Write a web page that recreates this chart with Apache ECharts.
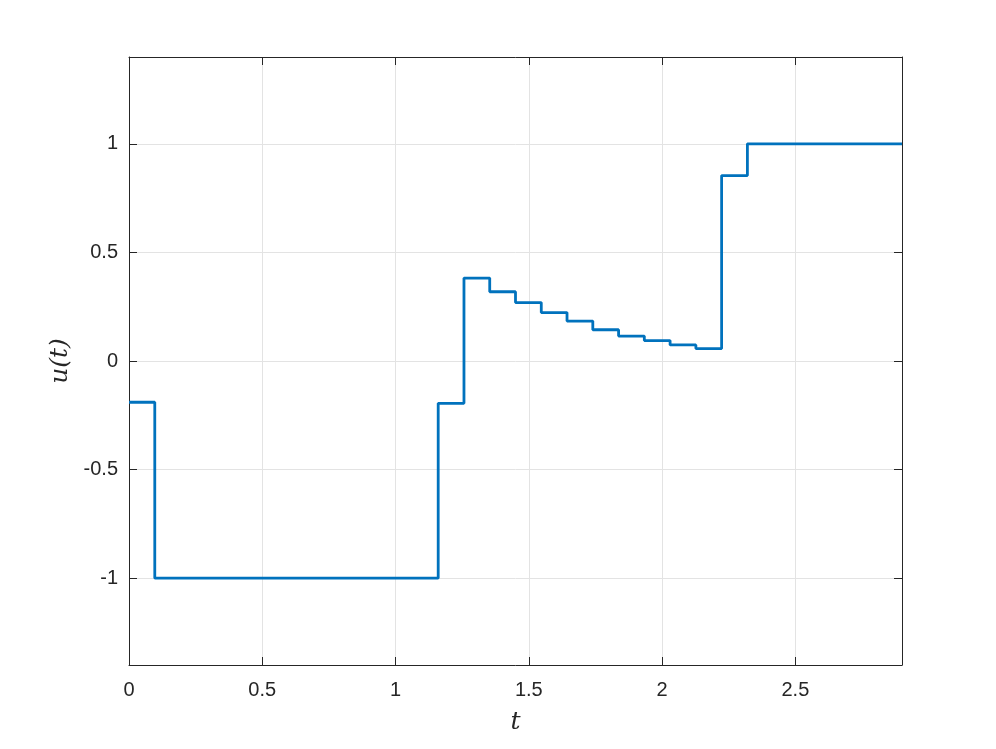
<!DOCTYPE html>
<html>
<head>
<meta charset="utf-8">
<script src="https://cdn.jsdelivr.net/npm/echarts@6/dist/echarts.min.js"></script>
<style>
  html, body { margin: 0; padding: 0; background: #fff; }
  #chart { width: 996px; height: 749px; }
</style>
</head>
<body>
<div id="chart"></div>
<script>
// breakpoints of the zero-order-hold control signal u(t)
const times = [0, 0.0967, 1.16, 1.2567, 1.3533, 1.45, 1.5467, 1.6433, 1.74, 1.8367,
               1.9333, 2.03, 2.1267, 2.2233, 2.32, 2.9];
const uValues = [-0.19, -1, -0.195, 0.382, 0.319, 0.269, 0.223, 0.184, 0.144, 0.115,
                 0.094, 0.074, 0.057, 0.854, 1, 1];

const xRange = [0, 2.9];
const yRange = [-1.4, 1.4];

const axisColor = '#262626';
const gridColor = '#e3e3e3';
const labelFont = 'Liberation Sans, Helvetica, Arial, sans-serif';
const mathFont = 'DejaVu Serif, Liberation Serif, serif';

const chart = echarts.init(document.getElementById('chart'));

const tickStyle = { show: true, inside: true, length: 8, lineStyle: { color: axisColor, width: 1 } };

chart.setOption({
    animation: false,
    backgroundColor: '#fff',
    grid: { left: 129, right: 94, top: 57, bottom: 84, show: false },
    xAxis: [
        {
            type: 'value', min: xRange[0], max: xRange[1], splitNumber: 6,
            position: 'bottom',
            axisLine: { show: true, onZero: false, lineStyle: { color: axisColor, width: 1 } },
            axisTick: tickStyle,
            axisLabel: { color: axisColor, fontSize: 20, fontFamily: labelFont, margin: 15, showMaxLabel: false },
            splitLine: { show: true, lineStyle: { color: gridColor, width: 1 } },
            name: 't', nameLocation: 'middle', nameGap: 45,
            nameTextStyle: { fontFamily: mathFont, fontStyle: 'italic', fontSize: 25, color: axisColor }
        },
        {
            type: 'value', min: xRange[0], max: xRange[1], splitNumber: 6,
            position: 'top',
            axisLine: { show: true, onZero: false, lineStyle: { color: axisColor, width: 1 } },
            axisTick: tickStyle,
            axisLabel: { show: false },
            splitLine: { show: false }
        }
    ],
    yAxis: [
        {
            type: 'value', min: yRange[0], max: yRange[1], splitNumber: 6,
            position: 'left',
            axisLine: { show: true, onZero: false, lineStyle: { color: axisColor, width: 1 } },
            axisTick: tickStyle,
            axisLabel: { color: axisColor, fontSize: 20, fontFamily: labelFont, margin: 11,
                         showMinLabel: false, showMaxLabel: false },
            splitLine: { show: true, lineStyle: { color: gridColor, width: 1 } },
            name: 'u(t)', nameLocation: 'middle', nameGap: 54, nameRotate: 90,
            nameTextStyle: { fontFamily: mathFont, fontStyle: 'italic', fontSize: 25, color: axisColor }
        },
        {
            type: 'value', min: yRange[0], max: yRange[1], splitNumber: 6,
            position: 'right',
            axisLine: { show: true, onZero: false, lineStyle: { color: axisColor, width: 1 } },
            axisTick: tickStyle,
            axisLabel: { show: false },
            splitLine: { show: false }
        }
    ],
    series: [
        {
            type: 'line',
            step: 'end',
            xAxisIndex: 0,
            yAxisIndex: 0,
            showSymbol: false,
            symbol: 'none',
            lineStyle: { color: '#0072BD', width: 2.8 },
            data: times.map((t, i) => [t, uValues[i]]),
            clip: true
        }
    ]
});
</script>
</body>
</html>
